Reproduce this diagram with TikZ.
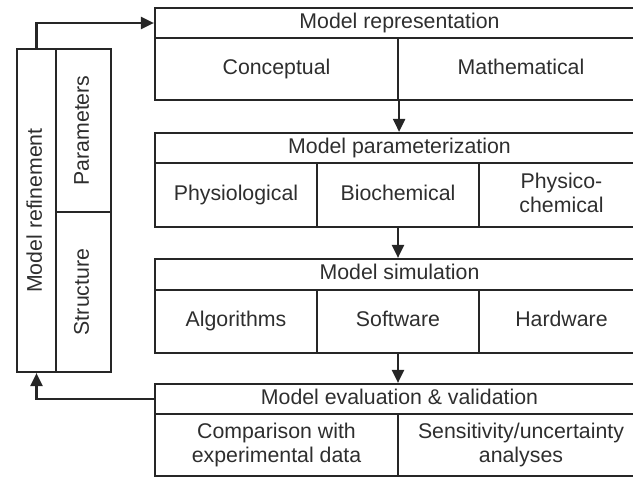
\documentclass[tikz,border=0pt]{standalone}
\usepackage{fontspec}
\setmainfont{Liberation Sans}
\usetikzlibrary{arrows.meta}
\definecolor{linec}{HTML}{262626}
\definecolor{txtc}{HTML}{2E2E2E}
\newcommand\cellstrut{\rule[-4.65pt]{0pt}{19.85pt}}
\begin{document}
\begin{tikzpicture}[x=1pt,y=-1pt,
  cell/.style={draw=linec, line width=2.2pt, inner sep=0pt, text=txtc, align=center,
    font=\fontsize{21.3}{24.5}\selectfont,
    execute at begin node={\cellstrut}, execute at end node={\cellstrut}},
  vcell/.style={cell, rotate=90},
  arr/.style={draw=linec, line width=2.2pt, -{Triangle[length=13pt,width=12pt]}}]
\useasboundingbox (0,0) rectangle (633,477);
\clip (0,0) rectangle (633,477);
% Model representation
\node[cell, minimum width=489pt, minimum height=30pt] (t1) at (399.5,23) {Model representation};
\node[cell, minimum width=243pt, minimum height=62pt] (c11) at (276.5,69) {Conceptual};
\node[cell, minimum width=246pt, minimum height=62pt] (c12) at (521,69) {Mathematical};
% Model parameterization
\node[cell, minimum width=489pt, minimum height=30pt] (t2) at (399.5,148) {Model parameterization};
\node[cell, minimum width=162pt, minimum height=64pt] (p1) at (236,195) {Physiological};
\node[cell, minimum width=162pt, minimum height=64pt] (p2) at (398,195) {Biochemical};
\node[cell, minimum width=165pt, minimum height=64pt] (p3) at (561.5,195) {Physico-\\chemical};
% Model simulation
\node[cell, minimum width=489pt, minimum height=31pt] (t3) at (399.5,274.5) {Model simulation};
\node[cell, minimum width=162pt, minimum height=63pt] (s1) at (236,321.5) {Algorithms};
\node[cell, minimum width=162pt, minimum height=63pt] (s2) at (398,321.5) {Software};
\node[cell, minimum width=165pt, minimum height=63pt] (s3) at (561.5,321.5) {Hardware};
% Model evaluation
\node[cell, minimum width=489pt, minimum height=30pt] (t4) at (399.5,399) {Model evaluation \& validation};
\node[cell, minimum width=243pt, minimum height=62pt] (e1) at (276.5,445) {Comparison with\\experimental data};
\node[cell, minimum width=246pt, minimum height=62pt] (e2) at (521,445) {Sensitivity/uncertainty\\analyses};
% Model refinement
\node[vcell, minimum width=323pt, minimum height=39pt] (lr) at (36.5,210.5) {Model refinement};
\node[vcell, minimum width=163pt, minimum height=55pt] (par) at (83.5,130.5) {Parameters};
\node[vcell, minimum width=160pt, minimum height=55pt] (str) at (83.5,292) {Structure};
% arrows
\draw[arr] (c11.south east) -- (c11.south east |- t2.north);
\draw[arr] (p2.south) -- (p2.south |- t3.north);
\draw[arr] (s2.south) -- (s2.south |- t4.north);
\draw[arr] (lr.east) |- (t1.west);
\draw[arr] (t4.west) -| (lr.west);
\end{tikzpicture}
\end{document}
